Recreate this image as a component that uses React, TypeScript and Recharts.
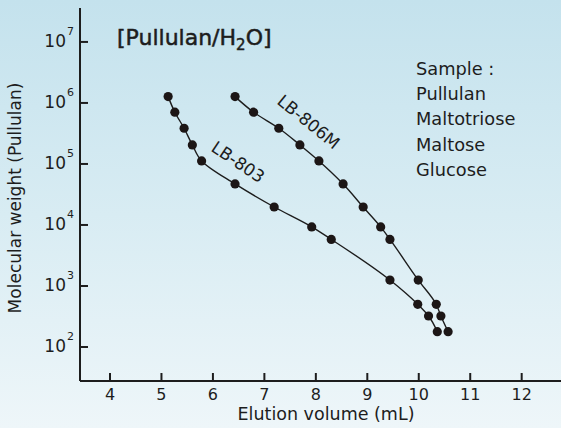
import React from "react";
import { LineChart, Line, XAxis, YAxis, ReferenceDot } from "recharts";

// Elution volumes (mL) for the two columns
const volumesLB803 = [5.13, 5.26, 5.44, 5.6, 5.78, 6.43, 7.19, 7.92, 8.3, 9.44, 9.98, 10.19, 10.36];
const volumesLB806M = [6.43, 6.79, 7.28, 7.69, 8.06, 8.53, 8.92, 9.26, 9.44, 9.99, 10.34, 10.43, 10.57];
// Molecular weights of the standards (Pullulan, maltotriose, maltose, glucose)
const molWeights = [1270000, 705000, 385000, 205000, 112000, 47000, 19700, 9300, 5800, 1250, 500, 322, 178];

const xTicks = [4, 5, 6, 7, 8, 9, 10, 11, 12];
const yTicks = [1e2, 1e3, 1e4, 1e5, 1e6, 1e7];
const sampleLines = ["Sample :", "Pullulan", "Maltotriose", "Maltose", "Glucose"];
const seriesLabels = [
  { text: "LB-803", x: 6.49, y: 108000, angle: 34 },
  { text: "LB-806M", x: 7.86, y: 490000, angle: 39 },
];

const dataLB803 = volumesLB803.map((v, i) => ({ x: v, y: molWeights[i] }));
const dataLB806M = volumesLB806M.map((v, i) => ({ x: v, y: molWeights[i] }));

const FONT = "DejaVu Sans";
const INK = "#1d1d1d";

const YTick = (props: any) => {
  const { x, y, payload } = props;
  const exp = Math.round(Math.log10(payload.value));
  return (
    <g>
      <line x1={x} x2={x + 8} y1={y} y2={y} stroke={INK} strokeWidth={2} />
      <text x={x - 14} y={y + 5} textAnchor="end" fontFamily={FONT} fontSize={17} fill={INK}>
        10
      </text>
      <text x={x - 13} y={y - 7} textAnchor="start" fontFamily={FONT} fontSize={11} fill={INK}>
        {exp}
      </text>
    </g>
  );
};

const XTick = (props: any) => {
  const { x, y, payload } = props;
  return (
    <g>
      <line x1={x} x2={x} y1={y} y2={y - 8} stroke={INK} strokeWidth={2} />
      <text x={x} y={y + 19} textAnchor="middle" fontFamily={FONT} fontSize={16} fill={INK}>
        {payload.value}
      </text>
    </g>
  );
};

export default function App() {
  return (
    <div
      style={{
        position: "absolute",
        left: 0,
        top: 0,
        width: 561,
        height: 428,
        background: "linear-gradient(180deg, #c4e2ed 0%, #d8ecf3 50%, #eef6f9 100%)",
        overflow: "hidden",
      }}
    >
      <LineChart width={561} height={428} margin={{ top: 8, right: 0, left: 0, bottom: 0 }}>
        <XAxis
          xAxisId="bottom"
          type="number"
          dataKey="x"
          domain={[3.417, 12.764]}
          ticks={xTicks}
          allowDataOverflow
          height={47}
          tickSize={0}
          tickMargin={0}
          tickLine={false}
          axisLine={{ stroke: INK, strokeWidth: 2 }}
          tick={<XTick />}
        />
        <XAxis
          xAxisId="top"
          orientation="top"
          type="number"
          domain={[3.417, 12.764]}
          height={0}
          tick={false}
          tickLine={false}
          axisLine={{ stroke: INK, strokeWidth: 2 }}
        />
        <YAxis
          type="number"
          dataKey="y"
          scale="log"
          domain={[27.7, 36000000]}
          allowDataOverflow
          ticks={yTicks}
          width={80}
          tickSize={0}
          tickMargin={0}
          tickLine={false}
          axisLine={{ stroke: INK, strokeWidth: 2 }}
          tick={<YTick />}
        />
        <Line
          xAxisId="bottom"
          data={dataLB803}
          dataKey="y"
          type="monotoneY"
          stroke={INK}
          strokeWidth={1.4}
          dot={{ r: 4.6, fill: "#1c1616", stroke: "none" }}
          isAnimationActive={false}
        />
        <Line
          xAxisId="bottom"
          data={dataLB806M}
          dataKey="y"
          type="monotoneY"
          stroke={INK}
          strokeWidth={1.4}
          dot={{ r: 4.6, fill: "#1c1616", stroke: "none" }}
          isAnimationActive={false}
        />
        {seriesLabels.map((s) => (
          <ReferenceDot
            key={s.text}
            xAxisId="bottom"
            x={s.x}
            y={s.y}
            r={0}
            ifOverflow="visible"
            shape={(p: any) => (
              <text
                x={p.cx}
                y={p.cy}
                transform={`rotate(${s.angle}, ${p.cx}, ${p.cy})`}
                textAnchor="middle"
                dominantBaseline="central"
                fontFamily={FONT}
                fontSize={17}
                fill={INK}
              >
                {s.text}
              </text>
            )}
          />
        ))}
      </LineChart>
      <svg
        width={561}
        height={428}
        style={{ position: "absolute", left: 0, top: 0, pointerEvents: "none" }}
      >
        <text x={117} y={45} fontFamily={FONT} fontSize={22} fill={INK} stroke={INK} strokeWidth={0.5}>
          [Pullulan/H
          <tspan fontSize={15} dy={5}>2</tspan>
          <tspan dy={-5}>O]</tspan>
        </text>
        {sampleLines.map((t, i) => (
          <text key={t} x={416} y={75 + i * 25.2} fontFamily={FONT} fontSize={17.8} fill={INK}>
            {t}
          </text>
        ))}
        <text x={326} y={420} textAnchor="middle" fontFamily={FONT} fontSize={17.5} fill={INK}>
          Elution volume (mL)
        </text>
        <text
          x={21}
          y={198}
          textAnchor="middle"
          transform="rotate(-90, 21, 198)"
          fontFamily={FONT}
          fontSize={17}
          fill={INK}
        >
          Molecular weight (Pullulan)
        </text>
      </svg>
    </div>
  );
}
